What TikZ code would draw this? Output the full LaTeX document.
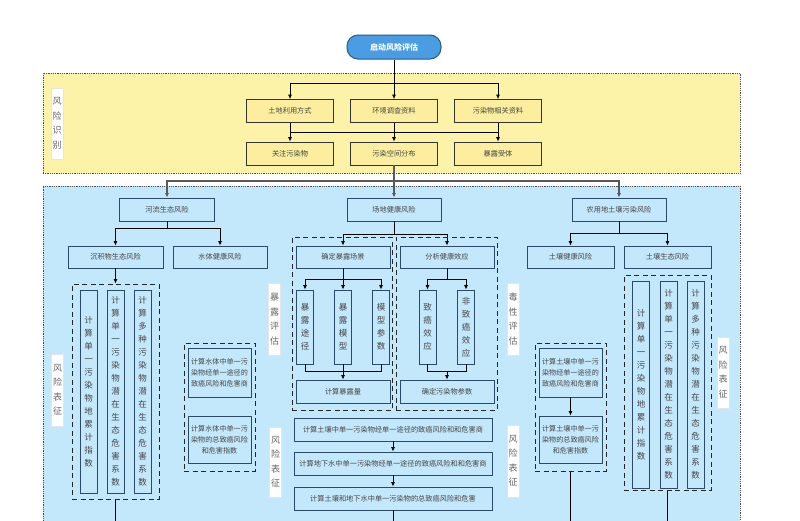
\documentclass[tikz,border=0pt]{standalone}
\usepackage{fontspec}
\newfontfamily\cjk{Noto Sans CJK SC}
\usetikzlibrary{arrows.meta}
\definecolor{ypanel}{HTML}{FDF3A8}
\definecolor{yboxf}{HTML}{FCEE9E}
\definecolor{bpanel}{HTML}{C4E8FB}
\definecolor{bdr}{HTML}{2A4A68}
\definecolor{txt}{HTML}{444444}
\definecolor{startf}{HTML}{4A9DE2}
\definecolor{startd}{HTML}{245A8C}
\begin{document}
\begin{tikzpicture}[x=1pt,y=-1pt,
 every node/.style={font=\cjk\fontsize{7.2}{9}\selectfont, text=txt, inner sep=0pt},
 ybox/.style={draw=black!80, fill=yboxf, line width=0.8pt, minimum width=87pt, minimum height=23pt},
 bbox/.style={draw=bdr, fill=bpanel, line width=0.9pt, minimum height=23pt},
 tall/.style={draw=bdr, fill=bpanel, line width=0.9pt, minimum width=17pt, align=center, font=\cjk\fontsize{8.5}{13}\selectfont},
 mbox/.style={draw=bdr, fill=bpanel, line width=0.9pt, minimum width=63pt, text width=62pt, align=center, font=\cjk\fontsize{7.1}{11}\selectfont},
 side/.style={fill=white, draw=black!10, minimum width=12pt, align=center, font=\cjk\fontsize{9}{14.5}\selectfont, text=black!60},
 dbox/.style={draw=black!85, dash pattern=on 5pt off 3.5pt, line width=1pt},
 arr/.style={-{Latex[length=4.5pt,width=4pt]}, line width=0.8pt, draw=black},
 ln/.style={line width=0.8pt, draw=black}
]
\useasboundingbox (0,0) rectangle (800,520);
\fill[white] (0,0) rectangle (800,520);

% panels
\node[fill=ypanel, draw=black!70, densely dotted, line width=0.8pt, minimum width=697pt, minimum height=100pt] (yp) at (391.5,123) {};
\node[fill=bpanel, draw=black!70, densely dotted, line width=0.8pt, minimum width=697pt, minimum height=344pt] (bp) at (391.5,358) {};

% start
\node[fill=startf, draw=startd, line width=1pt, rounded corners=11pt, minimum width=94pt, minimum height=24pt, text=white, font=\cjk\bfseries\fontsize{8}{10}\selectfont] (start) at (394,47) {启动风险评估};

% risk identification
\node[side, minimum height=71pt] (sl0) at (57,123.5) {风\\险\\识\\别};
\node[ybox] (r1a) at (290,111) {土地利用方式};
\node[ybox] (r1b) at (394,111) {环境调查资料};
\node[ybox] (r1c) at (498,111) {污染物相关资料};
\node[ybox] (r2a) at (290,153.5) {关注污染物};
\node[ybox] (r2b) at (394,153.5) {污染空间分布};
\node[ybox] (r2c) at (498,153.5) {暴露受体};

\coordinate (b1) at (394,83);
\draw[ln] (start) -- (b1);
\draw[arr] (b1) -| (r1a);
\draw[arr] (b1) -| (r1c);
\draw[arr] (b1) -- (r1b);
\coordinate (b2) at (394,132);
\draw[arr] (r1a) -- (r2a);
\draw[arr] (r1b) -- (r2b);
\draw[arr] (r1c) -- (r2c);
\draw[ln] (r1a.south|-b2) -- (r1c.south|-b2);

% level 2
\node[bbox, minimum width=95pt] (hl) at (167,209.5) {河流生态风险};
\node[bbox, minimum width=94pt] (cd) at (394,209.5) {场地健康风险};
\node[bbox, minimum width=94pt] (nt) at (619,209.5) {农用地土壤污染风险};
\coordinate (b3) at (394,181);
\draw[ln, draw=black!65, line width=1.3pt] (r2b) -- (b3);
\draw[arr, draw=black!65, line width=1.3pt] (b3) -| (hl);
\draw[arr, draw=black!65, line width=1.3pt] (b3) -| (nt);
\draw[arr, draw=black!65, line width=1.3pt] (b3) -- (cd);

% level 3
\node[bbox, minimum width=95pt, minimum height=22pt] (sed) at (115.5,257) {沉积物生态风险};
\node[bbox, minimum width=94pt, minimum height=22pt] (wat) at (220,257) {水体健康风险};
\node[bbox, minimum width=94pt, minimum height=22pt] (exs) at (343,257) {确定暴露场景};
\node[bbox, minimum width=94pt, minimum height=22pt] (hef) at (447,257) {分析健康效应};
\node[bbox, minimum width=87pt, minimum height=22pt] (shr) at (570.5,257) {土壤健康风险};
\node[bbox, minimum width=87pt, minimum height=22pt] (ser) at (667.5,257) {土壤生态风险};

\coordinate (b4) at (167,228);
\draw[ln] (hl) -- (b4);
\draw[arr] (b4) -| (sed);
\draw[arr] (b4) -| (wat);
\coordinate (b5) at (394,234);
\draw[ln] (cd) -- (b5);
\draw[arr] (b5) -| (exs);
\draw[arr] (b5) -| (hef);
\coordinate (b6) at (619,233);
\draw[ln] (nt) -- (b6);
\draw[arr] (b6) -| (shr);
\draw[arr] (b6) -| (ser);

% dashed groups
\node[dbox, minimum width=87pt, minimum height=215pt] (dl) at (115.5,391.5) {};
\node[dbox, minimum width=71pt, minimum height=128pt] (dw) at (219.5,407) {};
\node[dbox, minimum width=100pt, minimum height=173pt] (dm1) at (342,323.5) {};
\node[dbox, minimum width=101pt, minimum height=173pt] (dm2) at (446.5,323.5) {};
\node[dbox, minimum width=71pt, minimum height=128pt] (ds) at (570.5,407) {};
\node[dbox, minimum width=87pt, minimum height=215pt] (de) at (667.5,382.5) {};

% sediment tall boxes
\node[tall, minimum height=203pt] (t1) at (88.5,391.5) {计\\算\\单\\一\\污\\染\\物\\地\\累\\计\\指\\数};
\node[tall, minimum height=203pt] (t2) at (115.5,391.5) {计\\算\\单\\一\\污\\染\\物\\潜\\在\\生\\态\\危\\害\\系\\数};
\node[tall, minimum height=203pt] (t3) at (142.5,391.5) {计\\算\\多\\种\\污\\染\\物\\潜\\在\\生\\态\\危\\害\\系\\数};
\draw[arr] (sed) -- (dl);
\coordinate (e1) at (115.5,530);
\draw[ln] (dl) -- (e1);

% soil eco tall boxes
\node[tall, minimum height=207pt] (u1) at (641,384.5) {计\\算\\单\\一\\污\\染\\物\\地\\累\\计\\指\\数};
\node[tall, minimum height=207pt] (u2) at (668.5,384.5) {计\\算\\单\\一\\污\\染\\物\\潜\\在\\生\\态\\危\\害\\系\\数};
\node[tall, minimum height=207pt] (u3) at (695.5,384.5) {计\\算\\多\\种\\污\\染\\物\\潜\\在\\生\\态\\危\\害\\系\\数};
\coordinate (e4) at (667.5,530);
\draw[ln] (de) -- (e4);

% water boxes
\node[mbox, minimum height=49pt] (w1) at (219.5,372.5) {计算水体中单一污\\染物经单一途径的\\致癌风险和危害商};
\node[mbox, minimum height=47pt] (w2) at (219.5,439.5) {计算水体中单一污\\染物的总致癌风险\\和危害指数};

% soil health boxes
\node[mbox, minimum height=49pt] (s1) at (570.5,372.5) {计算土壤中单一污\\染物经单一途径的\\致癌风险和危害商};
\node[mbox, minimum height=47pt] (s2) at (570.5,439.5) {计算土壤中单一污\\染物的总致癌风险\\和危害指数};
\draw[arr] (s1) -- (s2);
\coordinate (e3) at (570.5,530);
\draw[ln] (ds) -- (e3);

% exposure scenario
\node[tall, minimum height=74pt] (m1) at (305,327) {暴\\露\\途\\径};
\node[tall, minimum height=74pt] (m2) at (343,327) {暴\\露\\模\\型};
\node[tall, minimum height=74pt] (m3) at (381,327) {模\\型\\参\\数};
\node[bbox, minimum width=94pt] (cal) at (343,391.5) {计算暴露量};
\coordinate (b7) at (343,279);
\draw[ln] (exs) -- (b7);
\draw[arr] (b7) -| (m1);
\draw[arr] (b7) -| (m3);
\draw[arr] (b7) -- (m2);
\coordinate (b8) at (343,371);
\draw[ln] (m1) |- (b8);
\draw[ln] (m3) |- (b8);
\draw[ln] (m2) -- (b8);
\draw[arr] (b8) -- (cal);

% health effect
\node[tall, minimum height=74pt] (h1) at (427.5,327) {致\\癌\\效\\应};
\node[tall, minimum height=74pt] (h2) at (466,327) {非\\致\\癌\\效\\应};
\node[bbox, minimum width=94pt] (par) at (447,391.5) {确定污染物参数};
\coordinate (b9) at (447,279);
\draw[ln] (hef) -- (b9);
\draw[arr] (b9) -| (h1);
\draw[arr] (b9) -| (h2);
\coordinate (b10) at (447,371);
\draw[ln] (h1) |- (b10);
\draw[ln] (h2) |- (b10);
\draw[arr] (b10) -- (par);

% risk characterisation boxes
\node[bbox, minimum width=198pt] (k1) at (393,429.5) {计算土壤中单一污染物经单一途径的致癌风险和和危害商};
\node[bbox, minimum width=198pt] (k2) at (393,463.5) {计算地下水中单一污染物经单一途径的致癌风险和和危害商};
\node[bbox, minimum width=198pt] (k3) at (393,498.5) {计算土壤和地下水中单一污染物的总致癌风险和危害};
\draw[arr] (k1) -- (k2);
\draw[arr] (k2) -- (k3);
\coordinate (e2) at (393,530);
\draw[ln] (k3) -- (e2);

% side labels
\node[side, minimum height=72pt] (sl1) at (57.5,390) {风\\险\\表\\征};
\node[side, minimum height=72pt] (sl2) at (274.5,319) {暴\\露\\评\\估};
\node[side, minimum height=70pt] (sl3) at (275.5,462) {风\\险\\表\\征};
\node[side, minimum height=72pt] (sl4) at (513,319) {毒\\性\\评\\估};
\node[side, minimum height=72pt] (sl5) at (513,461) {风\\险\\表\\征};
\node[side, minimum height=71pt] (sl6) at (723,372.5) {风\\险\\表\\征};
\end{tikzpicture}
\end{document}
